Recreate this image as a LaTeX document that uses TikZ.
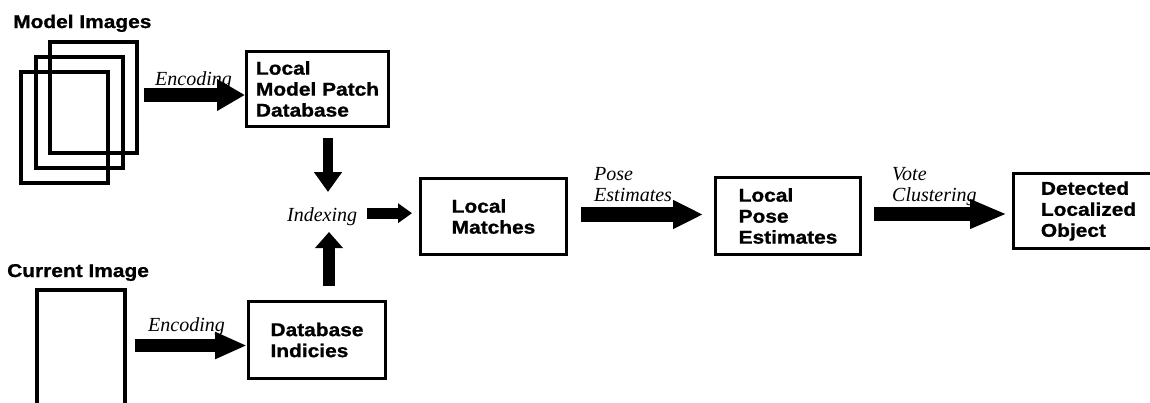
\documentclass[tikz,border=0pt]{standalone}
\usepackage{fontspec}
\setmainfont{Liberation Serif}
\newfontfamily\hv[FakeStretch=1.13,BoldFeatures={FakeStretch=1.13,FakeBold=1}]{Liberation Sans}
\usetikzlibrary{arrows.meta}
\begin{document}
\begin{tikzpicture}[x=1pt,y=-1pt,
  frame/.style={draw,line width=4pt,inner sep=0pt,minimum width=87pt,minimum height=111pt},
  box/.style={draw,line width=3pt,inner sep=0pt,align=left,font=\hv\bfseries\fontsize{18.5}{21}\selectfont},
  title/.style={inner sep=0pt,anchor=base west,font=\hv\bfseries\fontsize{18.5}{21}\selectfont},
  lbl/.style={inner sep=0pt,align=left,font=\itshape\fontsize{20}{21}\selectfont},
  blk/.style={line width=#1,draw=black},
]
\clip (0,0) rectangle (1150,402);
\fill[white] (0,0) rectangle (1150,402);

% titles
\node[title] (tmod) at (13,28) {Model Images};
\node[title] (tcur) at (7,277) {Current Image};

% model image frames
\node[frame] (frB) at (93,97.5) {};
\node[frame] (frM) at (79,112.5) {};
\node[frame] (frF) at (64,127.5) {};
% current image frame (runs off the bottom)
\node[frame,minimum width=88pt,minimum height=140pt] (cur) at (81,360) {};

% boxes
\node[box,minimum width=142pt,minimum height=75pt] (dbm) at (317.5,89) {Local\\Model Patch\\Database};
\node[box,minimum width=137pt,minimum height=77pt] (dbi) at (317,340) {Database\\Indicies};
\node[box,minimum width=146pt,minimum height=76pt] (lm) at (493.5,216.5) {Local\\Matches};
\node[box,minimum width=145pt,minimum height=77pt] (lpe) at (788,216) {Local\\Pose\\Estimates};
\node[box,minimum width=150pt,minimum height=75pt] (det) at (1088.5,211) {Detected\\Localized\\Object};

% labels
\node[lbl,anchor=base west] (enc1) at (155,85) {Encoding};
\node[lbl,anchor=base west] (enc2) at (148,331) {Encoding};
\node[lbl,anchor=base west] (idx) at (287,221) {Indexing};
\node[lbl,anchor=north west] (pose) at (594,167) {Pose\\Estimates};
\node[lbl,anchor=north west] (vote) at (892,167) {Vote\\Clustering};

% row levels for horizontal arrows
\coordinate (rowA) at (0,95);
\coordinate (rowB) at (0,345.5);
\coordinate (rowC) at (0,214.5);
\coordinate (rowD) at (0,214);

% arrows
\draw[blk=14pt,-{Triangle[length=28pt,width=30pt]}] ([xshift=5pt]frB.east |- rowA) -- (dbm.west |- rowA);
\draw[blk=13pt,-{Triangle[length=32pt,width=25pt]}] ([xshift=8pt]cur.east |- rowB) -- (dbi.west |- rowB);
\draw[blk=10pt,-{Triangle[length=20pt,width=27pt]}] ([xshift=10.5pt,yshift=-10pt]dbm.south) -- ([xshift=10.5pt,yshift=-64pt]dbm.south);
\draw[blk=12pt,-{Triangle[length=16pt,width=27pt]}] ([xshift=12pt,yshift=14pt]dbi.north) -- ([xshift=12pt,yshift=68pt]dbi.north);
\draw[blk=11pt,-{Triangle[length=14pt,width=19pt]}] ([xshift=10pt,yshift=3pt]idx.east) coordinate (s1) -- ([xshift=-7pt]lm.west |- s1);
\draw[blk=15pt,-{Triangle[length=30pt,width=27pt]}] ([xshift=13pt]lm.east |- rowC) -- ([xshift=-11pt]lpe.west |- rowC);
\draw[blk=14pt,-{Triangle[length=37pt,width=27pt]}] ([xshift=12pt]lpe.east |- rowD) -- ([xshift=-5pt]det.west |- rowD);
\end{tikzpicture}
\end{document}
